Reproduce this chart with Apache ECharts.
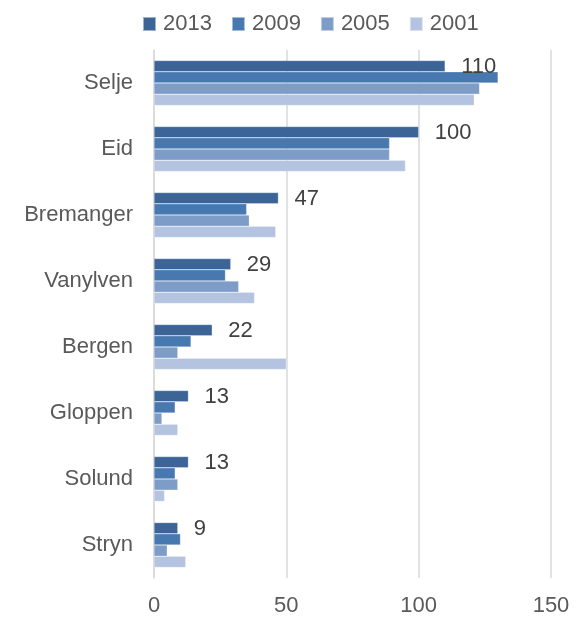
<!DOCTYPE html>
<html>
<head>
<meta charset="utf-8">
<script src="https://cdn.jsdelivr.net/npm/echarts@6/dist/echarts.min.js"></script>
<style>
  html, body { margin: 0; padding: 0; background: #fff; }
  #main { width: 579px; height: 617px; }
</style>
</head>
<body>
<div id="main"></div>
<script>
// kommuner, ovenfra og ned
var places = ['Selje', 'Eid', 'Bremanger', 'Vanylven', 'Bergen', 'Gloppen', 'Solund', 'Stryn'];
var years = ['2013', '2009', '2005', '2001'];
var v2013 = [110, 100, 47, 29, 22, 13, 13, 9];
var v2009 = [130, 89, 35, 27, 14, 8, 8, 10];
var v2005 = [123, 89, 36, 32, 9, 3, 9, 5];
var v2001 = [121, 95, 46, 38, 50, 9, 4, 12];
var xTicks = [0, 50, 100, 150];

var colors = ['#3c6496', '#4878b0', '#7e9cc8', '#b4c4e0'];
var values = [v2013, v2009, v2005, v2001];
var font = 'Liberation Sans, Arial, sans-serif';

var myChart = echarts.init(document.getElementById('main'));

var series = years.map(function (y, i) {
  return {
    name: y,
    type: 'bar',
    data: values[i],
    barGap: '0%',
    barCategoryGap: '32%',
    itemStyle: { color: colors[i], borderColor: 'rgba(255,255,255,0.5)', borderWidth: 0.5 },
    label: i === 0 ? {
      show: true,
      position: 'right',
      distance: 16,
      offset: [0, 1],
      color: '#404040',
      fontSize: 22,
      fontFamily: font
    } : { show: false },
    emphasis: { disabled: true }
  };
});

myChart.setOption({
  animation: false,
  color: colors,
  legend: {
    data: years,
    top: 8,
    left: 137,
    itemWidth: 13,
    itemHeight: 14,
    itemGap: 19,
    icon: 'rect',
    textStyle: { color: '#595959', fontSize: 22, fontFamily: font, padding: [0, 0, 0, 2] }
  },
  grid: { left: 154, right: 28, top: 50, bottom: 39, containLabel: false },
  xAxis: {
    type: 'value',
    min: xTicks[0],
    max: xTicks[xTicks.length - 1],
    interval: 50,
    axisLine: { show: false },
    axisTick: { show: false },
    splitLine: { lineStyle: { color: '#d9d9d9', width: 1.5 } },
    axisLabel: { color: '#595959', fontSize: 22, fontFamily: font, margin: 17 }
  },
  yAxis: {
    type: 'category',
    data: places,
    inverse: true,
    axisLine: { show: true, lineStyle: { color: '#d9d9d9', width: 1.5 } },
    axisTick: { show: false },
    axisLabel: { color: '#595959', fontSize: 22, fontFamily: font, margin: 21 }
  },
  series: series
});
</script>
</body>
</html>
